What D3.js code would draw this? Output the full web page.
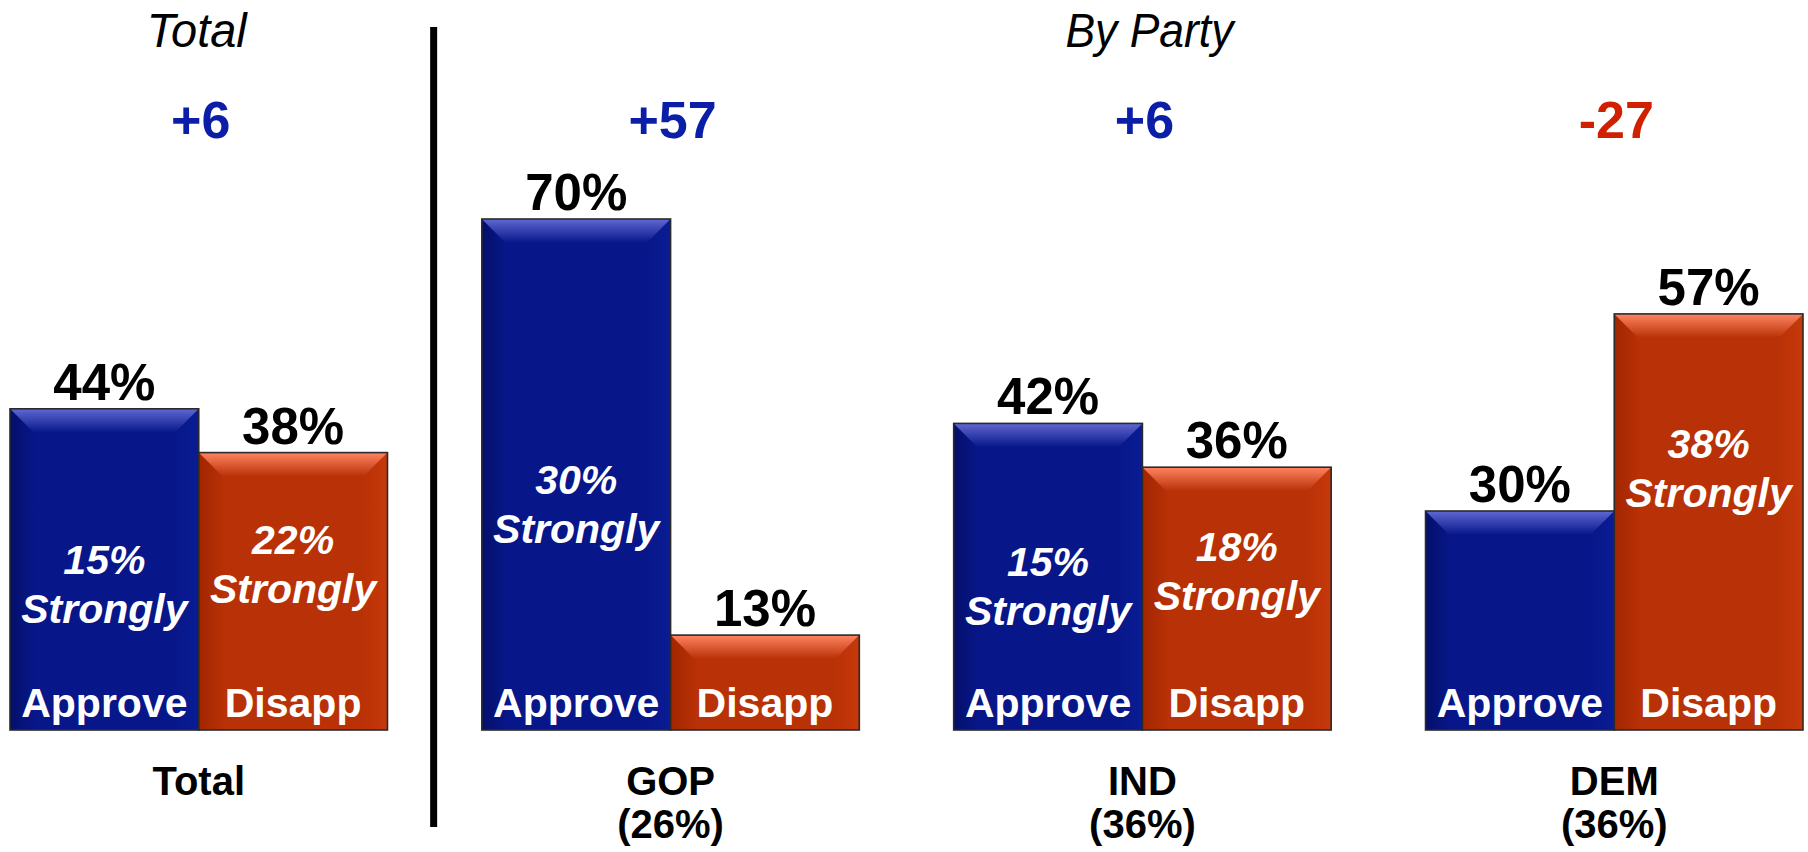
<!DOCTYPE html>
<html>
<head>
<meta charset="utf-8">
<script src="https://cdn.jsdelivr.net/npm/d3@7"></script>
<style>
  html, body { margin: 0; padding: 0; background: #fff; }
  svg { display: block; }
</style>
</head>
<body>
<svg id="chart" width="1808" height="852"></svg>
<script>
// ---- data ----
const groups = ["Total", "GOP", "IND", "DEM"];
const groupSub = ["", "(26%)", "(36%)", "(36%)"];
const seriesNames = ["Approve", "Disapp"];
const approve = [44, 70, 42, 30];
const disapprove = [38, 13, 36, 57];
const strongApprove = [15, 30, 15, null];
const strongDisapprove = [22, null, 18, 38];
const netLabels = ["+6", "+57", "+6", "-27"];
const sectionTitles = ["Total", "By Party"];
// label anchor levels (in % units, placed via y scale) for the "Strongly" line
const strongLevelApprove = [14.7, 25.6, 14.4, null];
const strongLevelDisapprove = [17.4, null, 16.4, 30.5];

// ---- layout ----
const svg = d3.select("#chart");
const x = d3.scaleBand().domain(groups).range([10, 1803]).paddingInner(0.2).paddingOuter(0);
const xi = d3.scaleBand().domain(seriesNames).range([0, x.bandwidth()]).padding(0);
const y = d3.scaleLinear().domain([0, 100]).range([730, 0]);

const palette = {
  Approve: { body: "#07178a", light: "#6068d2", dark: "#040f6a", side: "#0a1c94" },
  Disapp:  { body: "#b93106", light: "#ff8462", dark: "#a12600", side: "#c6390b" }
};

const defs = svg.append("defs");
seriesNames.forEach(s => {
  const c = palette[s];
  const top = defs.append("linearGradient").attr("id", "top-" + s)
    .attr("x1", 0).attr("y1", 0).attr("x2", 0).attr("y2", 1);
  top.append("stop").attr("offset", "0%").attr("stop-color", c.light);
  top.append("stop").attr("offset", "70%").attr("stop-color", c.body);
  top.append("stop").attr("offset", "100%").attr("stop-color", c.body);
  const left = defs.append("linearGradient").attr("id", "left-" + s)
    .attr("x1", 0).attr("y1", 0).attr("x2", 1).attr("y2", 0);
  left.append("stop").attr("offset", "0%").attr("stop-color", c.dark);
  left.append("stop").attr("offset", "100%").attr("stop-color", c.body);
  const right = defs.append("linearGradient").attr("id", "right-" + s)
    .attr("x1", 0).attr("y1", 0).attr("x2", 1).attr("y2", 0);
  right.append("stop").attr("offset", "0%").attr("stop-color", c.body);
  right.append("stop").attr("offset", "100%").attr("stop-color", c.side);
});

// build bar records
const bars = [];
groups.forEach((g, i) => {
  bars.push({ g, i, s: "Approve", v: approve[i], strong: strongApprove[i], lvl: strongLevelApprove[i] });
  bars.push({ g, i, s: "Disapp", v: disapprove[i], strong: strongDisapprove[i], lvl: strongLevelDisapprove[i] });
});

const bold = "'Liberation Sans', Arial, Helvetica, sans-serif";

const barG = svg.append("g").selectAll("g").data(bars).join("g")
  .attr("transform", d => `translate(${x(d.g) + xi(d.s)},0)`);

barG.each(function(d) {
  const g = d3.select(this);
  const w = xi.bandwidth();
  const t = y(d.v), b = y(0), h = b - t;
  const dep = Math.min(34, h / 2);
  const side = 26;
  g.append("rect").attr("x", 0).attr("y", t).attr("width", w).attr("height", h)
    .attr("fill", palette[d.s].body);
  // left shading
  g.append("polygon")
    .attr("points", [[0, t], [side, t + side], [side, b], [0, b]].map(p => p.join(",")).join(" "))
    .attr("fill", `url(#left-${d.s})`);
  // right shading
  g.append("polygon")
    .attr("points", [[w, t], [w - side, t + side], [w - side, b], [w, b]].map(p => p.join(",")).join(" "))
    .attr("fill", `url(#right-${d.s})`);
  // top bevel
  g.append("polygon")
    .attr("points", [[0, t], [w, t], [w - dep, t + dep], [dep, t + dep]].map(p => p.join(",")).join(" "))
    .attr("fill", `url(#top-${d.s})`);
  // outline
  g.append("rect").attr("x", 0).attr("y", t).attr("width", w).attr("height", h)
    .attr("fill", "none").attr("stroke", "#2a2a2a").attr("stroke-width", 1.6);

  // value label above
  g.append("text").attr("x", w / 2).attr("y", t - 9)
    .attr("text-anchor", "middle").attr("font-family", bold).attr("font-weight", "bold")
    .attr("font-size", 51).attr("fill", "#000").text(d.v + "%");

  // series label at bottom
  g.append("text").attr("x", w / 2).attr("y", b - 13)
    .attr("text-anchor", "middle").attr("font-family", bold).attr("font-weight", "bold")
    .attr("font-size", 41).attr("fill", "#fff").text(d.s);

  // strongly label
  if (d.strong != null) {
    const yb = y(d.lvl);
    g.append("text").attr("x", w / 2).attr("y", yb - 49)
      .attr("text-anchor", "middle").attr("font-family", bold).attr("font-weight", "bold")
      .attr("font-style", "italic").attr("font-size", 41).attr("fill", "#fff").text(d.strong + "%");
    g.append("text").attr("x", w / 2).attr("y", yb)
      .attr("text-anchor", "middle").attr("font-family", bold).attr("font-weight", "bold")
      .attr("font-style", "italic").attr("font-size", 41).attr("fill", "#fff").text("Strongly");
  }
});

// net labels
svg.append("g").selectAll("text").data(groups).join("text")
  .attr("x", g => x(g) + x.bandwidth() / 2 + 2)
  .attr("y", 138)
  .attr("text-anchor", "middle").attr("font-family", bold).attr("font-weight", "bold")
  .attr("font-size", 52)
  .attr("fill", (g, i) => netLabels[i].startsWith("-") ? "#d02000" : "#0b1ea8")
  .text((g, i) => netLabels[i]);

// category labels
const cat = svg.append("g").selectAll("text").data(groups).join("text")
  .attr("x", g => x(g) + x.bandwidth() / 2)
  .attr("y", 795)
  .attr("text-anchor", "middle").attr("font-family", bold).attr("font-weight", "bold")
  .attr("font-size", 40).attr("fill", "#000");
cat.append("tspan").attr("x", g => x(g) + x.bandwidth() / 2).text(g => g);
cat.filter((g, i) => groupSub[i] !== "").append("tspan")
  .attr("x", g => x(g) + x.bandwidth() / 2).attr("dy", 43)
  .text(g => groupSub[groups.indexOf(g)]);

// divider
const divX = (x("Total") + x.bandwidth() + x("GOP")) / 2 - 1;
svg.append("line").attr("x1", divX).attr("x2", divX).attr("y1", 27).attr("y2", 827)
  .attr("stroke", "#000").attr("stroke-width", 7);

// section titles
const narrow = "'Liberation Sans Narrow', 'Arial Narrow', 'Liberation Sans', sans-serif";
const partyCenter = (x("GOP") + x("DEM") + x.bandwidth()) / 2 + 7;
const titleData = [
  { t: sectionTitles[0], cx: x("Total") + x.bandwidth() / 2 - 2, len: 100 },
  { t: sectionTitles[1], cx: partyCenter, len: 168 }
];
svg.append("g").selectAll("text").data(titleData).join("text")
  .attr("x", d => d.cx - d.len / 2).attr("y", 47)
  .attr("font-family", narrow).attr("font-style", "italic").attr("font-weight", "normal")
  .attr("font-size", 48).attr("fill", "#000")
  .attr("textLength", d => d.len).attr("lengthAdjust", "spacingAndGlyphs")
  .text(d => d.t);
</script>
</body>
</html>
